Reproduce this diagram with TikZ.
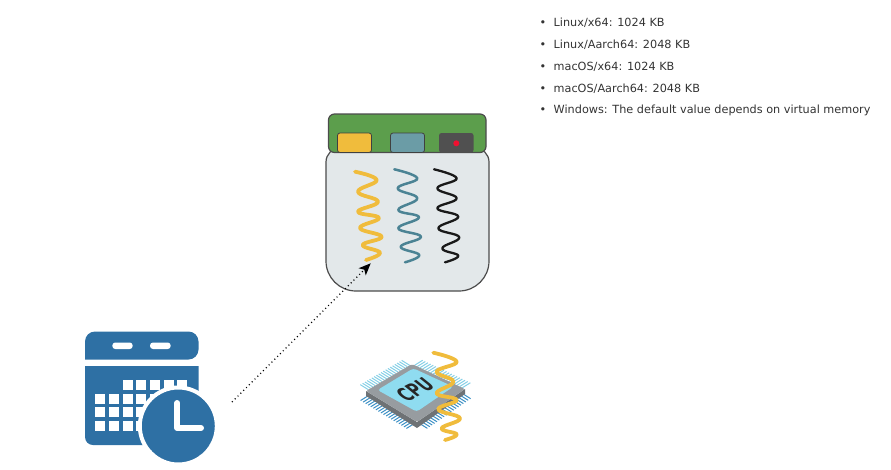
\documentclass[tikz,border=0pt]{standalone}
\usepackage{fontspec}
\setmainfont{DejaVu Sans}
\usepackage{xcolor}
\usetikzlibrary{arrows.meta,calc}
\definecolor{jargrey}{HTML}{E3E8EA}
\definecolor{lidgreen}{HTML}{5C9E4C}
\definecolor{threadyellow}{HTML}{F0BC3C}
\definecolor{threadteal}{HTML}{4B8394}
\definecolor{btnteal}{HTML}{6B9CA6}
\definecolor{btndark}{HTML}{505050}
\definecolor{btnred}{HTML}{F01030}
\definecolor{calblue}{HTML}{2E70A4}
\definecolor{pinlight}{HTML}{85D0E6}
\definecolor{pindark}{HTML}{3B8FC4}
\definecolor{chiptop}{HTML}{979CA0}
\definecolor{chipside}{HTML}{6E7275}
\definecolor{chipscreen}{HTML}{8FDCF0}
\tikzset{
  thread/.style={line width=#1,line cap=round,line join=round},
  btn/.style={draw=black!75,line width=0.8pt,rounded corners=2.5pt},
  listtext/.style={anchor=base west,inner sep=0pt,text=black!80,font=\fontsize{11.25}{13}\selectfont},
  listdot/.style={anchor=base,inner sep=0pt,text=black!80,font=\fontsize{11.25}{13}\selectfont},
  pin/.style={line width=1pt},
}
\begin{document}
\begin{tikzpicture}[x=1pt,y=-1pt,>={Stealth[length=12pt,width=10pt,inset=3pt]}]
\useasboundingbox (0,0) rectangle (891,469);
% list
\foreach \n/\y/\txt in {1/26/Linux\slash x64: 1024 KB,2/48/Linux\slash Aarch64: 2048 KB,3/70/macOS\slash x64: 1024 KB,4/92/macOS\slash Aarch64: 2048 KB,5/113/Windows: The default value depends on virtual memory}{
  \node[listdot] (dot\n) at (543,\y) {\textbullet};
  \node[listtext] (item\n) at (553.5,\y) {\txt};
}
% jar
\draw[fill=jargrey,draw=black!70,line width=1.2pt] (326,148) [rounded corners=14pt] -- (489,148) [rounded corners=30pt] -- (489,291) -- (326,291) [rounded corners=14pt] -- cycle;
\draw[fill=lidgreen,draw=black!70,line width=1.2pt,rounded corners=6pt] (328.5,114) rectangle (486,152.5);
\fill[btndark,rounded corners=2.5pt] (439,133) -- (473.5,133) -- (473.5,152.5) -- (439,152.5) -- cycle;
\draw[btn,fill=threadyellow] (337.5,133) rectangle (371.5,152.5);
\draw[btn,fill=btnteal] (390.5,133) rectangle (424.5,152.5);
\fill[btnred] (456.3,143.3) circle (3);
% threads
\draw[thread=3.8pt,threadyellow] plot[smooth,tension=0.75] coordinates {(355,171.7) (376.7,180) (358,191.7) (378,201.7) (358,211.7) (379,218) (360,228) (381.7,236.7) (362.7,245) (380,252.7) (366,260)};
\draw[thread=2.5pt,threadteal] plot[smooth,tension=0.75] coordinates {(394.3,169.3) (417.3,178.3) (397.7,188.3) (417.3,198.3) (398.3,210) (419,217.3) (398.3,228.3) (421,236.7) (400.7,246.7) (419.3,255) (405,262.3)};
\draw[thread=2.3pt,black!90] plot[smooth,tension=0.75] coordinates {(434,169.3) (456.7,178.3) (437.3,188.3) (456.7,198.3) (437.3,208.3) (458.3,216.7) (438.3,228.3) (459.3,237.3) (442.3,248.3) (458.3,255.7) (445,262.3)};
% calendar
\fill[calblue,rounded corners=10pt] (85,359.5) -- (85,331.5) -- (198.5,331.5) -- (198.5,359.5) [sharp corners] -- cycle;
\fill[calblue] (85,366) -- (198.5,366) -- (198.5,445) [rounded corners=8pt] -- (85,445) [sharp corners] -- cycle;
\fill[white,rounded corners=3pt] (112.3,342.5) rectangle (132.7,349);
\fill[white,rounded corners=3pt] (150,342.5) rectangle (170.7,349);
\foreach \x in {122.7,136.3,150,163.7,177.3}
  \fill[white] (\x,380) rectangle +(10,10);
\foreach \y in {393.5,407.3,421}
  \foreach \x in {95,109,122.7,136.3,150,163.7}
    \fill[white] (\x,\y) rectangle +(10,10);
\draw[calblue,fill=calblue,line width=0pt] (178.3,426) circle (36.5);
\draw[white,line width=4pt] (178.3,426) circle (38.5);
\draw[white,line width=6pt,line cap=round,line join=round] (177.3,403) -- (177.3,428) -- (201,428);
% chip pins
\coordinate (L) at (366,391);
\coordinate (T) at (412,364);
\coordinate (R) at (465,389);
\coordinate (B) at (417,422);
\foreach \t in {0.05,0.1,...,0.96}{
  \draw[pin,pinlight] ($(L)!\t!(T)$) -- ++(-8,-5);
  \draw[pin,pinlight] ($(T)!\t!(R)$) -- ++(8,-5);
  \draw[pin,pindark] ($(R)!\t!(B)$) ++(0,3) -- ++(8,5);
  \draw[pin,pindark] ($(B)!\t!(L)$) ++(0,3) -- ++(-8,5);
}
% chip
\fill[chipside] (L) -- (B) -- (R) -- ++(0,5) -- ($(B)+(0,6)$) -- ($(L)+(0,5)$) -- cycle;
\fill[chiptop,rounded corners=2pt] (L) -- (T) -- (R) -- (B) -- cycle;
\fill[chipscreen,rounded corners=3pt] (377.5,390) -- (413.3,368.3) -- (453.3,386.7) -- (416.7,411.7) -- cycle;
\node[rotate=27,xslant=-0.45,xscale=0.8,yscale=1.15,inner sep=0pt,text=black!85,font=\bfseries\fontsize{18}{18}\selectfont] (cpu) at (415,389.5) {CPU};
\draw[thread=3.8pt,threadyellow] plot[smooth,tension=0.75] coordinates {(433.3,352.7) (456.7,361.7) (436.7,371.7) (453.3,381.7) (436.7,393.3) (456.7,400) (438.3,409.3) (460,418.3) (441.7,428.3) (456.7,434.3) (445,440)};
% dotted arrow
\coordinate (clock) at (232,402);
\coordinate (threadend) at (370.7,263.3);
\draw[->,line width=1.1pt,dash pattern=on 1pt off 3pt] (clock) -- (threadend);
\end{tikzpicture}
\end{document}
